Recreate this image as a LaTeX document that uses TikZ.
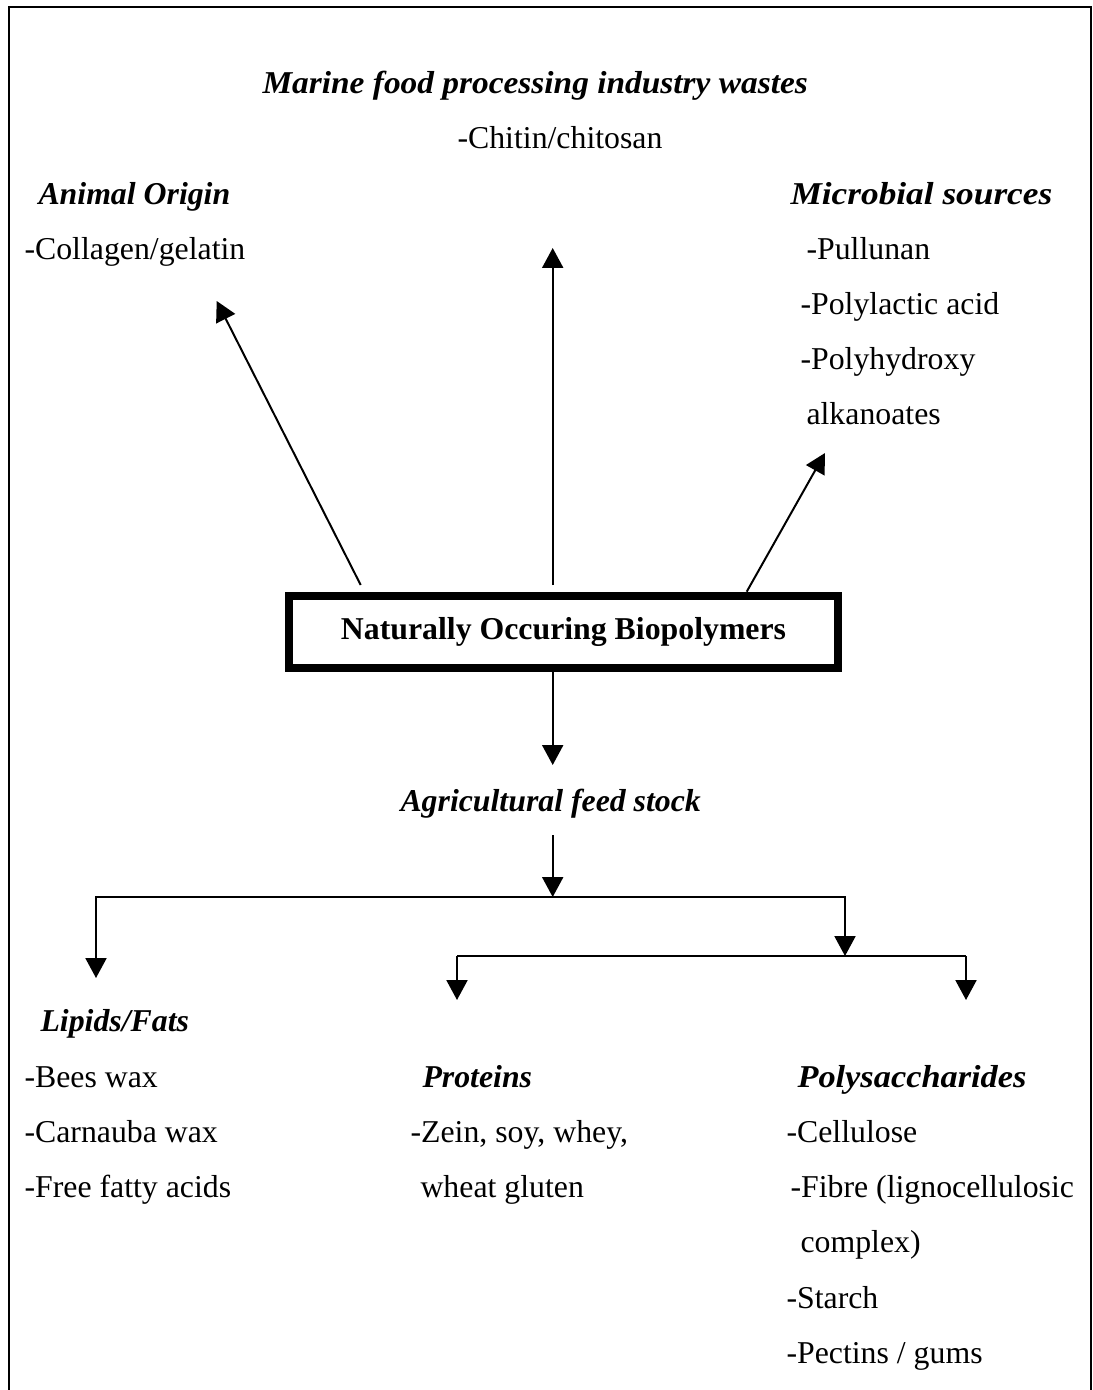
\documentclass[tikz,border=0pt]{standalone}
\usepackage{fontspec}
\setmainfont{Liberation Serif}
\usetikzlibrary{arrows.meta}
\begin{document}
\begin{tikzpicture}[x=0.3774pt,y=-0.3774pt,
  txt/.style={anchor=base west,inner sep=0pt,font=\fontsize{12}{14}\selectfont},
  hdr/.style={txt,font=\fontsize{12}{14}\selectfont\bfseries\itshape},
  arr/.style={line width=0.75pt,-{Triangle[length=7.5pt,width=7.9pt]}},
  ln/.style={line width=0.75pt}]
\useasboundingbox (0,0) rectangle (1093,1390);
% frame
\draw[line width=0.75pt] (9,1400) -- (9,6.7) -- (1091,6.7) -- (1091,1400);
% central box
\node[draw,line width=3pt,inner sep=0pt,
  minimum width=207.2pt,minimum height=27.2pt,font=\fontsize{12}{14}\selectfont\bfseries]
  (box) at (563.5,632) {Naturally Occuring Biopolymers};
% top texts
\node[hdr] (marine) at (262,93.5) {\scalebox{1.05}[1]{Marine food processing industry wastes}};
\node[txt] (chitin) at (457,148.5) {-Chitin/chitosan};
\node[hdr] (animal) at (38,204) {Animal Origin};
\node[txt] (collagen) at (24,259) {-Collagen/gelatin};
\node[hdr] (microbial) at (790,204) {\scalebox{1.11}[1]{Microbial sources}};
\node[txt] (pullunan) at (806,259) {-Pullunan};
\node[txt] (pla) at (800,314.5) {-Polylactic acid};
\node[txt] (phx) at (800,369.5) {-Polyhydroxy};
\node[txt] (alk) at (806,424.5) {alkanoates};
% agricultural
\node[hdr] (agri) at (400,811.5) {Agricultural feed stock};
% bottom texts
\node[hdr] (lipids) at (40,1031.5) {Lipids/Fats};
\node[txt] (bees) at (24,1087) {-Bees wax};
\node[txt] (carn) at (24,1142) {-Carnauba wax};
\node[txt] (ffa) at (24,1197.5) {-Free fatty acids};
\node[hdr] (prot) at (422,1087) {Proteins};
\node[txt] (zein) at (410,1142) {-Zein, soy, whey,};
\node[txt] (wheat) at (420,1197.5) {wheat gluten};
\node[hdr] (poly) at (797,1087) {\scalebox{1.08}[1]{Polysaccharides}};
\node[txt] (cell) at (786,1142) {-Cellulose};
\node[txt] (fibre) at (790,1197.5) {-Fibre (lignocellulosic};
\node[txt] (cplx) at (800,1252.5) {complex)};
\node[txt] (starch) at (786,1308) {-Starch};
\node[txt] (pect) at (786,1363) {-Pectins / gums};
% connector points
\coordinate (sA) at (360.7,585);
\coordinate (tA) at (216.7,301);
\coordinate (sM) at (552.7,585);
\coordinate (tM) at (552.7,248);
\coordinate (sR) at (746.7,591.7);
\coordinate (tR) at (825,453);
\coordinate (sD) at (552.7,672);
\coordinate (tD) at (552.7,765);
\coordinate (sG) at (552.7,835);
\coordinate (h1) at (552.7,897);
\coordinate (tL) at (96,978);
\coordinate (h2) at (845,956);
\coordinate (h2l) at (457,956);
\coordinate (h2r) at (966,956);
\coordinate (tP) at (457,1000);
\coordinate (tS) at (966,1000);
% connectors
\draw[arr] (sA) -- (tA);
\draw[arr] (sM) -- (tM);
\draw[arr] (sR) -- (tR);
\draw[arr] (sD) -- (tD);
\draw[arr] (sG) -- (h1);
\draw[arr] (h1) -| (tL);
\draw[arr] (h1) -| (h2);
\draw[ln] (h2l) -- (h2r);
\draw[arr] (h2l) -- (tP);
\draw[arr] (h2r) -- (tS);
\end{tikzpicture}
\end{document}
